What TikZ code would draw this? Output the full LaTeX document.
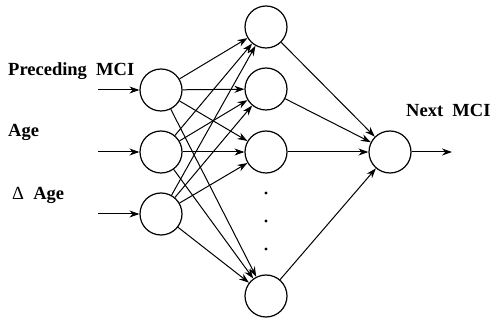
\documentclass[tikz,border=0pt]{standalone}
\usepackage{fontspec}
\setmainfont{Liberation Serif}
\usetikzlibrary{arrows.meta}
\begin{document}
\begin{tikzpicture}[x=1pt,y=-1pt,
  neuron/.style={circle,draw,line width=1.2pt,minimum size=42pt,inner sep=0pt},
  conn/.style={line width=1pt,-{Stealth[length=10pt,width=7pt]}},
  lab/.style={font=\bfseries\fontsize{18.5}{22}\selectfont,inner sep=0pt,anchor=west}]
\useasboundingbox (0,0) rectangle (493,320);
\node[neuron] (i1) at (161,90) {};
\node[neuron] (i2) at (161,152) {};
\node[neuron] (i3) at (161,214) {};
\node[neuron] (h1) at (266,27) {};
\node[neuron] (h2) at (266,89) {};
\node[neuron] (h3) at (266,152) {};
\node[neuron] (h4) at (266,296) {};
\node[neuron] (o) at (390,152) {};
\coordinate (s1) at (98,90);
\coordinate (s2) at (98,152);
\coordinate (s3) at (98,214);
\coordinate (e) at (452,152);
\foreach \d [count=\k] in {193,221,249} \fill (266,\d) circle (1.6pt) coordinate (dot\k);
\foreach \i in {1,2,3} {
  \draw[conn] (s\i) -- (i\i);
  \foreach \h in {1,2,3,4} \draw[conn] (i\i) -- (h\h);
}
\foreach \h in {1,2,3,4} \draw[conn] (h\h) -- (o);
\draw[conn] (o) -- (e);
\node[lab] (l1) at (8,71) {Preceding\ \ MCI};
\node[lab] (l2) at (8,132) {Age};
\node[lab] (l3) at (12,195) {{\mdseries Δ}\ \ Age};
\node[lab] (l4) at (406,110) {Next\ \ MCI};
\end{tikzpicture}
\end{document}
